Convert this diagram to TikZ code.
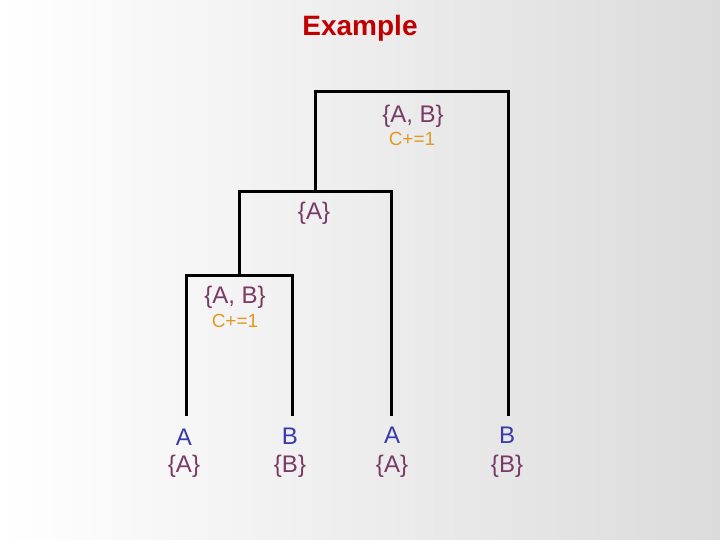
\documentclass[tikz,border=0pt]{standalone}
\usepackage{fontspec}
\setmainfont{Liberation Sans}
\definecolor{setc}{HTML}{7A3A68}
\definecolor{leafc}{HTML}{3A3AA8}
\definecolor{cc}{HTML}{E09A20}
\definecolor{titlec}{HTML}{C00000}
\begin{document}
\begin{tikzpicture}[x=1pt,y=-1pt,
  br/.style={line width=3pt},
  setl/.style={text=setc,font=\fontsize{24}{24}\selectfont,inner sep=0pt},
  leafl/.style={text=leafc,font=\fontsize{24}{24}\selectfont,inner sep=0pt},
  cl/.style={text=cc,font=\fontsize{19}{19}\selectfont,inner sep=0pt}]
\useasboundingbox (0,0) rectangle (720,540);
\shade[left color=white,right color=black!14] (0,0) rectangle (720,540);
\node[text=titlec,font=\bfseries\fontsize{28}{28}\selectfont] (t) at (360,28) {Example};
\coordinate (l1) at (186,416); \coordinate (l2) at (292,416);
\coordinate (l3) at (391,416); \coordinate (l4) at (508,416);
\coordinate (n1) at (239,275); \coordinate (n2) at (315,192); \coordinate (n3) at (412,92);
\draw[br] (l1) |- (n1) -| (l2);
\draw[br] (n1) -- (239,192) -| (l3);
\draw[br] (n2) |- (n3) -| (l4);
\node[setl] (s3) at (413,116) {\{A, B\}};
\node[cl] (c3) at (412,139) {C+=1};
\node[setl] (s2) at (314,213) {\{A\}};
\node[setl] (s1) at (235,297) {\{A, B\}};
\node[cl] (c1) at (235,321) {C+=1};
\node[leafl] (a1) at (184,437) {A}; \node[setl] (b1) at (184,466) {\{A\}};
\node[leafl] (a2) at (290,436) {B}; \node[setl] (b2) at (290,466) {\{B\}};
\node[leafl] (a3) at (392,435) {A}; \node[setl] (b3) at (392,466) {\{A\}};
\node[leafl] (a4) at (507,435) {B}; \node[setl] (b4) at (507,466) {\{B\}};
\end{tikzpicture}
\end{document}
